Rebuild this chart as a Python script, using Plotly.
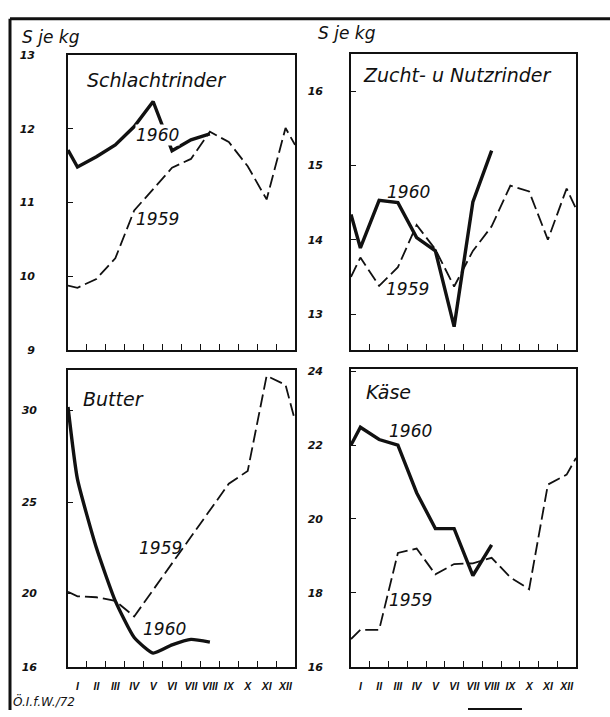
import plotly.graph_objects as go

W, H = 610, 717   # reference picture size in px (layout positions below are given in these px)

# ---------------- data ----------------
months = list(range(1, 13))
month_labels = ["I", "II", "III", "IV", "V", "VI", "VII", "VIII", "IX", "X", "XI", "XII"]

# Schlachtrinder (S je kg)
schlacht_1959 = [9.84, 9.96, 10.24, 10.89, 11.18, 11.47, 11.59, 11.96, 11.82, 11.49, 11.04, 12.01]
schlacht_1959_edges = [9.87, 11.78]          # value at left / right frame edge
schlacht_1960 = [11.48, 11.62, 11.78, 12.03, 12.37, 11.70, 11.85, 11.93]
schlacht_1960_start = 11.71

# Zucht- u Nutzrinder
zucht_1959 = [13.76, 13.38, 13.63, 14.20, 13.87, 13.37, 13.85, 14.18, 14.73, 14.65, 14.00, 14.69]
zucht_1959_edges = [13.50, 14.42]
zucht_1960 = [13.89, 14.53, 14.50, 14.03, 13.85, 12.83, 14.51, 15.20]
zucht_1960_start = 14.34

# Butter
butter_1959 = [19.85, 19.80, 19.60, 18.75, 20.20, 21.60, 23.05, 24.50, 26.00, 26.70, 31.90, 31.40]
butter_1959_edges = [20.10, 29.45]
butter_1960 = [26.25, 22.50, 19.60, 17.60, 16.75, 17.20, 17.50, 17.35]
butter_1960_start = 30.20

# Käse
kaese_1959 = [17.00, 17.00, 19.08, 19.20, 18.50, 18.78, 18.80, 18.95, 18.42, 18.10, 20.93, 21.20]
kaese_1959_edges = [16.75, 21.65]
kaese_1960 = [22.48, 22.15, 22.00, 20.71, 19.74, 19.74, 18.47, 19.30]
kaese_1960_start = 22.00

titles = ["Schlachtrinder", "Zucht- u Nutzrinder", "Butter", "Käse"]
year_labels = ["1959", "1960"]
unit_label = "S je kg"
credit = "Ö.I.f.W./72"

yticks_schlacht = [9, 10, 11, 12, 13]
yticks_zucht = [13, 14, 15, 16]
yticks_butter = [16, 20, 25, 30]
yticks_kaese = [16, 18, 20, 22, 24]

# ---------------- layout helpers ----------------
XR = [0.5, 12.5]


def px_x(x):
    return x / W


def px_y(y):
    return 1 - y / H


FONT_T = "DejaVu Sans"
INK = "#111111"

panels = [
    dict(v59=schlacht_1959, e59=schlacht_1959_edges, v60=schlacht_1960, s60=schlacht_1960_start,
         yr=[9, 13], yt=yticks_schlacht, box=(68, 295, 50, 350), showx=False, stand=29,
         title=(156, 75), l60=(157, 131), l59=(157, 217), bg60=True, spline60=False),
    dict(v59=zucht_1959, e59=zucht_1959_edges, v60=zucht_1960, s60=zucht_1960_start,
         yr=[12.52, 16.5], yt=yticks_zucht, box=(351, 576, 49, 350), showx=False, stand=24,
         title=(457, 70), l60=(408, 189), l59=(407, 288), bg60=False, spline60=False),
    dict(v59=butter_1959, e59=butter_1959_edges, v60=butter_1960, s60=butter_1960_start,
         yr=[16, 32.2], yt=yticks_butter, box=(68, 295, 371, 673), showx=True, stand=27,
         title=(113, 400), l60=(164, 635), l59=(160, 552), bg60=False, spline60=True),
    dict(v59=kaese_1959, e59=kaese_1959_edges, v60=kaese_1960, s60=kaese_1960_start,
         yr=[16, 24.05], yt=yticks_kaese, box=(351, 576, 370, 673), showx=True, stand=24,
         title=(388, 393), l60=(411, 433), l59=(411, 605), bg60=False, spline60=False),
]

fig = go.Figure()
annotations = []


def label(text, x, y, size, xanchor="center", bg=None):
    return dict(text=text, x=px_x(x), y=px_y(y), xref="paper", yref="paper",
                xanchor=xanchor, yanchor="middle", showarrow=False,
                bgcolor=bg, borderpad=0,
                font=dict(family=FONT_T, size=size, color=INK, style="italic"))


for i, p in enumerate(panels):
    n = "" if i == 0 else str(i + 1)
    xa, ya = "x" + n, "y" + n
    # 1959 dashed, from left frame edge to right frame edge
    x59 = [XR[0]] + months + [XR[1]]
    y59 = [p["e59"][0]] + p["v59"] + [p["e59"][1]]
    fig.add_trace(go.Scatter(x=x59, y=y59, mode="lines", xaxis=xa, yaxis=ya,
                             line=dict(color=INK, width=1.8, dash="13px,5px"),
                             showlegend=False, hoverinfo="skip"))
    # 1960 solid
    x60 = [XR[0]] + months[:len(p["v60"])]
    y60 = [p["s60"]] + p["v60"]
    fig.add_trace(go.Scatter(x=x60, y=y60, mode="lines", xaxis=xa, yaxis=ya,
                             line=dict(color=INK, width=3.4,
                                       shape="spline" if p["spline60"] else "linear",
                                       smoothing=0.5),
                             showlegend=False, hoverinfo="skip"))

    x0, x1, y0, y1 = p["box"]
    axis_common = dict(showgrid=False, zeroline=False, showline=True, linecolor=INK,
                       linewidth=1.6, mirror=True)
    fig.layout["xaxis" + n] = dict(
        axis_common, domain=[px_x(x0), px_x(x1)], range=XR, anchor=ya,
        tickmode="array", tickvals=months, ticktext=month_labels, ticks="",
        showticklabels=p["showx"], ticklabelstandoff=9,
        tickfont=dict(family="Liberation Sans", size=10.5, color=INK, style="italic", weight="bold"),
        minor=dict(tickmode="array", tickvals=[m + 0.5 for m in months[:-1]],
                   ticks="inside", ticklen=6, tickwidth=1.2, tickcolor=INK),
    )
    fig.layout["yaxis" + n] = dict(
        axis_common, domain=[px_y(y1), px_y(y0)], range=p["yr"], anchor=xa,
        tickmode="array", tickvals=p["yt"], ticks="inside", ticklen=5, tickwidth=1.2,
        tickcolor=INK, ticklabelstandoff=p["stand"],
        tickfont=dict(family=FONT_T, size=11, color=INK, style="italic", weight="bold"),
    )

    annotations.append(label(titles[i], p["title"][0], p["title"][1], 19))
    annotations.append(label(year_labels[1], p["l60"][0], p["l60"][1], 17,
                             bg="white" if p["bg60"] else None))
    annotations.append(label(year_labels[0], p["l59"][0], p["l59"][1], 17))

# unit labels and credit
annotations.append(label(unit_label, 21, 32, 17, xanchor="left"))
annotations.append(label(unit_label, 317, 27, 17, xanchor="left"))
annotations.append(label(credit, 12, 708, 12, xanchor="left"))

# outer frame of the printed figure (left, top and the visible bit of the bottom edge)
shapes = [
    dict(type="line", xref="paper", yref="paper", x0=px_x(10), x1=px_x(10), y0=0, y1=px_y(13),
         line=dict(color=INK, width=3)),
    dict(type="line", xref="paper", yref="paper", x0=px_x(10), x1=1, y0=px_y(13), y1=px_y(13),
         line=dict(color=INK, width=3)),
    dict(type="line", xref="paper", yref="paper", x0=px_x(468), x1=px_x(522), y0=px_y(716),
         y1=px_y(716), line=dict(color=INK, width=2)),
]

fig.update_layout(autosize=True, margin=dict(l=0, r=0, t=0, b=0),
                  paper_bgcolor="white", plot_bgcolor="white",
                  annotations=annotations, shapes=shapes, showlegend=False)

# the figure fills the 610x717 window exactly (no page margin, no scrollbars)
fig.write_html(
    "out.html",
    config={"displayModeBar": False, "responsive": True},
    default_width="100vw", default_height="100vh",
    post_script=("document.documentElement.style.overflow='hidden';"
                 "document.body.style.margin='0';document.body.style.overflow='hidden';"
                 "Plotly.Plots.resize(document.getElementById('{plot_id}'));"),
)
